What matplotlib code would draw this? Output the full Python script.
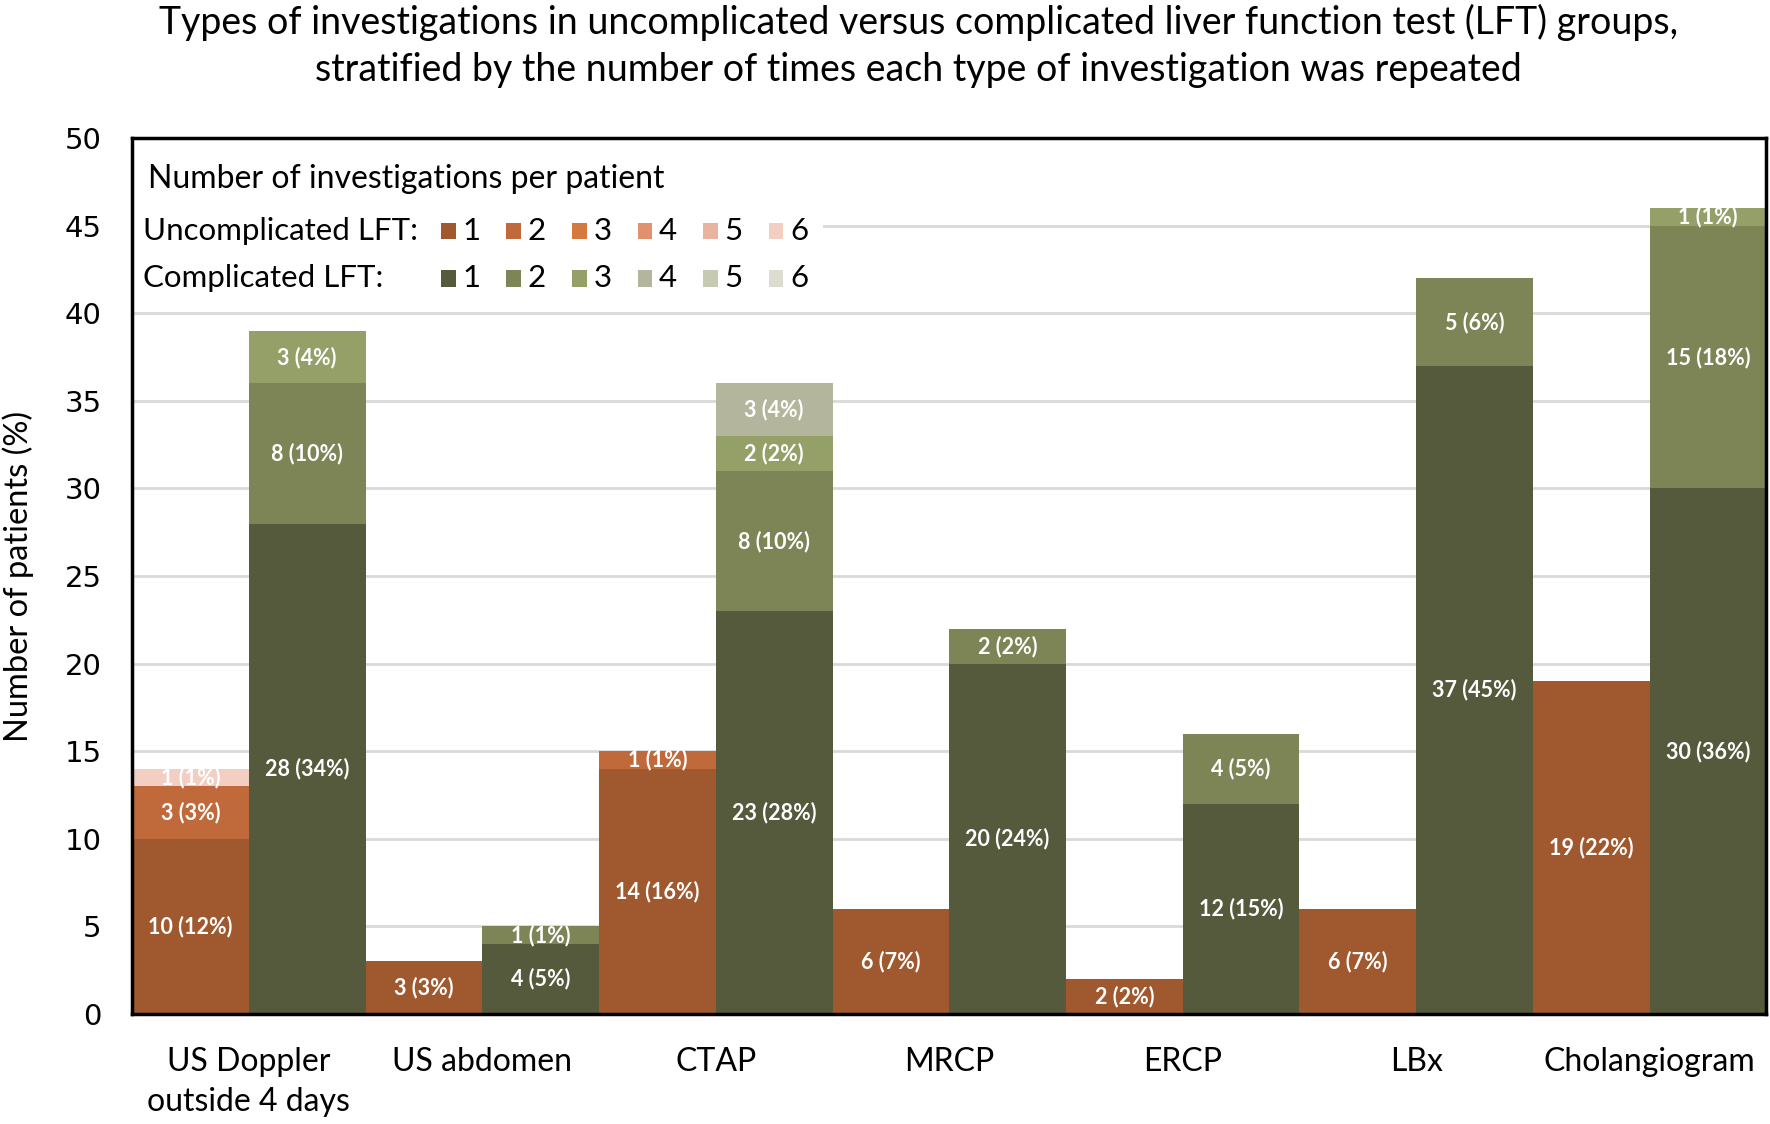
import matplotlib.pyplot as plt
from matplotlib.patches import Rectangle
import numpy as np

categories = ["US Doppler\noutside 4 days", "US abdomen", "CTAP", "MRCP", "ERCP", "LBx", "Cholangiogram"]

# patients per category, one list per number of repeats (1..6)
unc_counts = [
    [10, 3, 14, 6, 2, 6, 19],
    [3, 0, 1, 0, 0, 0, 0],
    [0, 0, 0, 0, 0, 0, 0],
    [0, 0, 0, 0, 0, 0, 0],
    [0, 0, 0, 0, 0, 0, 0],
    [1, 0, 0, 0, 0, 0, 0],
]
unc_pct = [
    [12, 3, 16, 7, 2, 7, 22],
    [3, 0, 1, 0, 0, 0, 0],
    [0, 0, 0, 0, 0, 0, 0],
    [0, 0, 0, 0, 0, 0, 0],
    [0, 0, 0, 0, 0, 0, 0],
    [1, 0, 0, 0, 0, 0, 0],
]
comp_counts = [
    [28, 4, 23, 20, 12, 37, 30],
    [8, 1, 8, 2, 4, 5, 15],
    [3, 0, 2, 0, 0, 0, 1],
    [0, 0, 3, 0, 0, 0, 0],
    [0, 0, 0, 0, 0, 0, 0],
    [0, 0, 0, 0, 0, 0, 0],
]
comp_pct = [
    [34, 5, 28, 24, 15, 45, 36],
    [10, 1, 10, 2, 5, 6, 18],
    [4, 0, 2, 0, 0, 0, 1],
    [0, 0, 4, 0, 0, 0, 0],
    [0, 0, 0, 0, 0, 0, 0],
    [0, 0, 0, 0, 0, 0, 0],
]
levels = ["1", "2", "3", "4", "5", "6"]

unc_colors = ["#a0582f", "#c06a3b", "#d47a41", "#e2916f", "#e8b4a0", "#f2cec3"]
comp_colors = ["#545a3b", "#7d8456", "#95a068", "#b3b59c", "#c6cab2", "#dcddd0"]

font = ["Lato", "DejaVu Sans"]
plt.rcParams["font.family"] = font

fig = plt.figure(figsize=(17.7, 11.24), dpi=100)
ax = fig.add_axes([0.0746, 0.0979, 0.9234, 0.7792])

x = np.arange(len(categories))
w = 0.5


def draw_stack(xpos, counts, pcts, colors):
    bottom = np.zeros(len(categories))
    for lev in range(len(counts)):
        vals = np.array(counts[lev], dtype=float)
        bars = ax.bar(xpos, vals, w, bottom=bottom, color=colors[lev], linewidth=0, zorder=3)
        labels = [f"{c} ({p}%)" if c > 0 else "" for c, p in zip(counts[lev], pcts[lev])]
        ax.bar_label(bars, labels=labels, label_type="center", color="white",
                     fontsize=15.5, fontweight="bold", zorder=5)
        bottom += vals


draw_stack(x - 0.25, unc_counts, unc_pct, unc_colors)
draw_stack(x + 0.25, comp_counts, comp_pct, comp_colors)

ax.set_xlim(-0.5, len(categories) - 0.5)
ax.set_ylim(0, 50)
ax.set_yticks(np.arange(0, 51, 5))
ax.set_yticklabels([str(v) for v in range(0, 51, 5)], family="DejaVu Sans", fontsize=21)
ax.set_xticks(x)
ax.set_xticklabels(categories, fontsize=23, linespacing=1.4)
ax.tick_params(axis="y", length=0, pad=22)
ax.tick_params(axis="x", length=0, pad=24)
ax.yaxis.grid(True, color="#d9d9d9", linewidth=2, zorder=0)
ax.set_axisbelow(True)
for s in ax.spines.values():
    s.set_linewidth(2.5)
    s.set_color("black")
    s.set_zorder(6)

ax.set_ylabel("Number of patients (%)", fontsize=23.5, labelpad=22)

fig.suptitle("Types of investigations in uncomplicated versus complicated liver function test (LFT) groups,\n"
             "stratified by the number of times each type of investigation was repeated",
             fontsize=27, x=0.519, y=0.997, linespacing=1.4)

# legend drawn by hand, in axes fraction coordinates
tr = ax.transAxes
ax.add_patch(Rectangle((0.001, 0.83), 0.422, 0.168, transform=tr, facecolor="white",
                       edgecolor="none", zorder=4))
ax.text(0.0097, 0.953, "Number of investigations per patient", transform=tr, fontsize=23,
        va="center", ha="left", zorder=5)
rows = [("Uncomplicated LFT:", unc_colors, 0.894), ("Complicated LFT:", comp_colors, 0.840)]
for name, cols, yy in rows:
    ax.text(0.007, yy, name, transform=tr, fontsize=22.5, va="center", ha="left", zorder=5)
    for k, lab in enumerate(levels):
        xs = 0.1935 + k * 0.0401
        ax.add_patch(Rectangle((xs - 0.0045, yy - 0.0095), 0.009, 0.019, transform=tr,
                               facecolor=cols[k], edgecolor="none", zorder=5))
        ax.text(xs + 0.0085, yy, lab, transform=tr, fontsize=22.5, va="center", ha="left", zorder=5)

fig.savefig("out.png", dpi=100)
